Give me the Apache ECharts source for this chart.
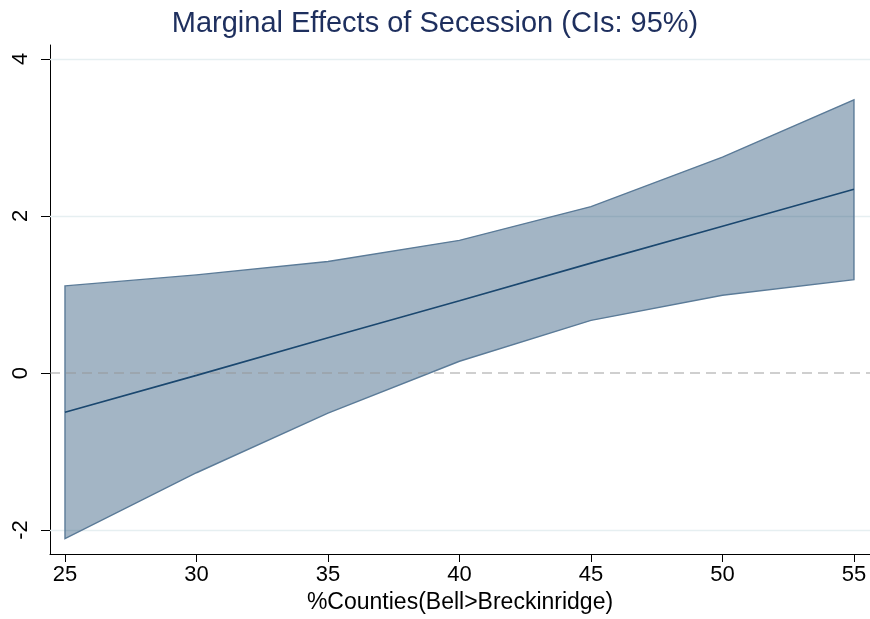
<!DOCTYPE html>
<html>
<head>
<meta charset="utf-8">
<script src="https://cdn.jsdelivr.net/npm/echarts@6/dist/echarts.min.js"></script>
<style>
  html, body { margin: 0; padding: 0; background: #fff; }
  #chart { width: 870px; height: 619px; }
</style>
</head>
<body>
<div id="chart"></div>
<script>
// Share of counties (Bell > Breckinridge), percent
const xValues = [25, 30, 35, 40, 45, 50, 55];
// Marginal effect estimate and 95% confidence bounds
const effect = [-0.50, -0.03, 0.45, 0.92, 1.40, 1.87, 2.34];
const upperCI = [1.11, 1.25, 1.42, 1.69, 2.12, 2.75, 3.48];
const lowerCI = [-2.11, -1.27, -0.51, 0.15, 0.67, 0.99, 1.19];
const xTicks = [25, 30, 35, 40, 45, 50, 55];
const yTicks = [-2, 0, 2, 4];

const font = 'Liberation Sans, Arial, sans-serif';
const chart = echarts.init(document.getElementById('chart'));

// polygon for the confidence band: upper bound left→right, lower bound right→left
const bandPoints = xValues.map((x, i) => [x, upperCI[i]])
  .concat(xValues.map((x, i) => [x, lowerCI[i]]).reverse());

chart.setOption({
  animation: false,
  title: {
    text: 'Marginal Effects of Secession (CIs: 95%)',
    left: 'center',
    top: 4,
    textStyle: { fontFamily: font, fontSize: 29, fontWeight: 'normal', color: '#1e2f5e' }
  },
  grid: { left: 50, right: 0, top: 45, bottom: 64 },
  xAxis: {
    type: 'value',
    min: 24.43,
    max: 55.61,
    name: '%Counties(Bell>Breckinridge)',
    nameLocation: 'middle',
    nameGap: 37,
    nameTextStyle: { fontFamily: font, fontSize: 23, color: '#000' },
    axisLine: { onZero: false, lineStyle: { color: '#000', width: 1 } },
    axisTick: { show: true, length: 8, customValues: xTicks, lineStyle: { color: '#000' } },
    axisLabel: { customValues: xTicks, fontFamily: font, fontSize: 22, color: '#000', margin: 10 },
    splitLine: { show: false }
  },
  yAxis: {
    type: 'value',
    min: -2.305,
    max: 4.178,
    axisLine: { show: true, lineStyle: { color: '#000', width: 1 } },
    axisTick: { show: true, length: 9, customValues: yTicks, lineStyle: { color: '#000' } },
    axisLabel: { customValues: yTicks, rotate: 90, fontFamily: font, fontSize: 22, color: '#000', margin: 18 },
    splitLine: { show: false }
  },
  series: [
    {
      // horizontal grid lines at the labelled ticks, beneath the band
      type: 'line',
      data: [],
      z: 1,
      markLine: {
        z: 1,
        silent: true,
        symbol: 'none',
        label: { show: false },
        lineStyle: { color: '#e6eff1', width: 1.3, type: 'solid' },
        data: yTicks.filter(v => v !== 0).map(v => ({ yAxis: v }))
      }
    },
    {
      type: 'custom',
      data: [0],
      renderItem: function (params, api) {
        const pts = bandPoints.map(p => api.coord(p));
        return {
          type: 'polygon',
          shape: { points: pts },
          style: { fill: 'rgba(26,71,111,0.4)', stroke: '#5b7b98', lineWidth: 1.4 }
        };
      },
      z: 2
    },
    {
      // reference line at zero
      type: 'line',
      data: [],
      z: 3,
      markLine: {
        z: 3,
        silent: true,
        symbol: 'none',
        label: { show: false },
        lineStyle: { color: 'rgba(150,150,150,0.6)', width: 1.5, type: [10, 6] },
        data: [{ yAxis: 0 }]
      }
    },
    {
      type: 'line',
      data: xValues.map((x, i) => [x, effect[i]]),
      showSymbol: false,
      lineStyle: { color: '#1a476f', width: 1.6 },
      z: 4
    }
  ]
});
</script>
</body>
</html>
